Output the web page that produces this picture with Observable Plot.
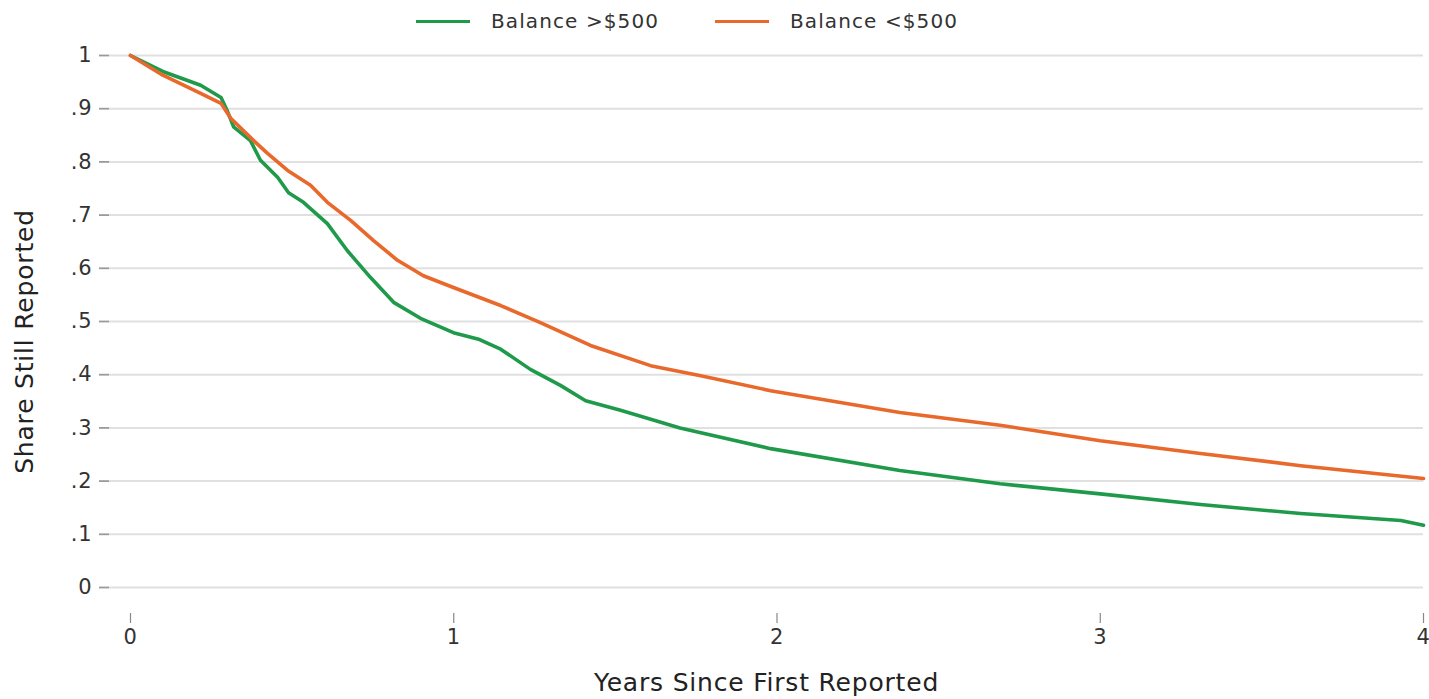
<!DOCTYPE html>
<html>
<head>
<meta charset="utf-8">
<script src="https://cdn.jsdelivr.net/npm/d3@7"></script>
<script src="https://cdn.jsdelivr.net/npm/@observablehq/plot@0.6"></script>
<style>
  html, body { margin: 0; padding: 0; background: #fff; }
  body { width: 1429px; height: 699px; overflow: hidden; font-family: "DejaVu Sans", sans-serif; }
  #legend { position: relative; height: 40px; }
  .item { position: absolute; top: 0; height: 42px; display: flex; align-items: center; font-size: 20px; letter-spacing: 1.1px; color: #333; }
  .sw { width: 54px; height: 3px; margin-right: 21px; }
</style>
</head>
<body>
<div id="legend"></div>
<div id="chart"></div>
<script>
// Series labels and colours
const seriesNames = ["Balance >$500", "Balance <$500"];
const seriesColors = ["#1f9a4b", "#e8692b"];

// Balance > $500 (green)
const greenYears = [0, 0.1, 0.217, 0.28, 0.30, 0.319, 0.371, 0.402, 0.455, 0.489, 0.535, 0.609, 0.671, 0.742, 0.814, 0.897, 0.999, 1.08, 1.145, 1.237, 1.33, 1.408, 1.516, 1.70, 1.98, 2.38, 2.69, 3.0, 3.31, 3.62, 3.93, 4.0];
const greenShare = [1.0, 0.970, 0.944, 0.921, 0.895, 0.866, 0.840, 0.803, 0.771, 0.742, 0.724, 0.684, 0.633, 0.583, 0.536, 0.506, 0.479, 0.466, 0.448, 0.410, 0.380, 0.351, 0.333, 0.300, 0.261, 0.220, 0.195, 0.176, 0.156, 0.139, 0.126, 0.117];

// Balance < $500 (orange)
const orangeYears = [0, 0.1, 0.217, 0.28, 0.31, 0.381, 0.424, 0.486, 0.557, 0.609, 0.681, 0.752, 0.826, 0.906, 0.999, 1.145, 1.268, 1.423, 1.609, 1.764, 1.98, 2.38, 2.69, 3.0, 3.31, 3.62, 4.0];
const orangeShare = [1.0, 0.963, 0.929, 0.910, 0.882, 0.840, 0.816, 0.784, 0.756, 0.724, 0.690, 0.652, 0.615, 0.586, 0.564, 0.530, 0.498, 0.455, 0.417, 0.398, 0.370, 0.329, 0.305, 0.276, 0.252, 0.229, 0.205];

// Tick values
const yTicks = [0, 0.1, 0.2, 0.3, 0.4, 0.5, 0.6, 0.7, 0.8, 0.9, 1];
const xTicks = [0, 1, 2, 3, 4];
const xLabel = "Years Since First Reported";
const yLabel = "Share Still Reported";

const data = [
  ...greenYears.map((t, i) => ({t, v: greenShare[i], s: seriesNames[0]})),
  ...orangeYears.map((t, i) => ({t, v: orangeShare[i], s: seriesNames[1]}))
];

// Legend
const legend = document.getElementById("legend");
const lefts = [416, 715];
seriesNames.forEach((n, i) => {
  const d = document.createElement("div");
  d.className = "item";
  d.style.left = lefts[i] + "px";
  d.innerHTML = `<span class="sw" style="background:${seriesColors[i]}"></span><span>${n.replace(/</g, "&lt;").replace(/>/g, "&gt;")}</span>`;
  legend.appendChild(d);
});

const fmtY = d => d === 0 ? "0" : d === 1 ? "1" : "." + Math.round(d * 10);

const chart = Plot.plot({
  width: 1429,
  height: 659,
  marginTop: 15,
  marginLeft: 109,
  marginRight: 6,
  marginBottom: 86,
  insetLeft: 21,
  insetBottom: 26,
  style: {fontFamily: "DejaVu Sans", fontSize: "21px", letterSpacing: "0.8px", color: "#333", background: "#fff"},
  x: {domain: [0, 4], ticks: xTicks, tickFormat: d => String(d), label: null},
  y: {domain: [0, 1], ticks: yTicks, tickFormat: fmtY, label: null},
  color: {domain: seriesNames, range: seriesColors},
  marks: [
    Plot.gridY(yTicks, {stroke: "#e0e0e0", strokeOpacity: 1, strokeWidth: 2}),
    Plot.axisY(yTicks, {tickSize: 10, tickPadding: 7, tickFormat: fmtY, stroke: "#9a9a9a", strokeWidth: 1.8, fill: "#333", label: null}),
    Plot.axisX(xTicks, {tickSize: 10, tickPadding: 6, tickFormat: d => String(d), stroke: "#888", strokeWidth: 1.2, fill: "#333", label: null}),
    Plot.line(data, {x: "t", y: "v", z: "s", stroke: "s", strokeWidth: 3.6}),
    Plot.text([xLabel], {frameAnchor: "bottom", lineAnchor: "top", dy: 60, fontSize: 25, fill: "#222"}),
    Plot.text([yLabel], {frameAnchor: "left", textAnchor: "middle", rotate: -90, dx: -85, dy: 7, fontSize: 25, fill: "#222"})
  ]
});
document.getElementById("chart").appendChild(chart);
</script>
</body>
</html>
